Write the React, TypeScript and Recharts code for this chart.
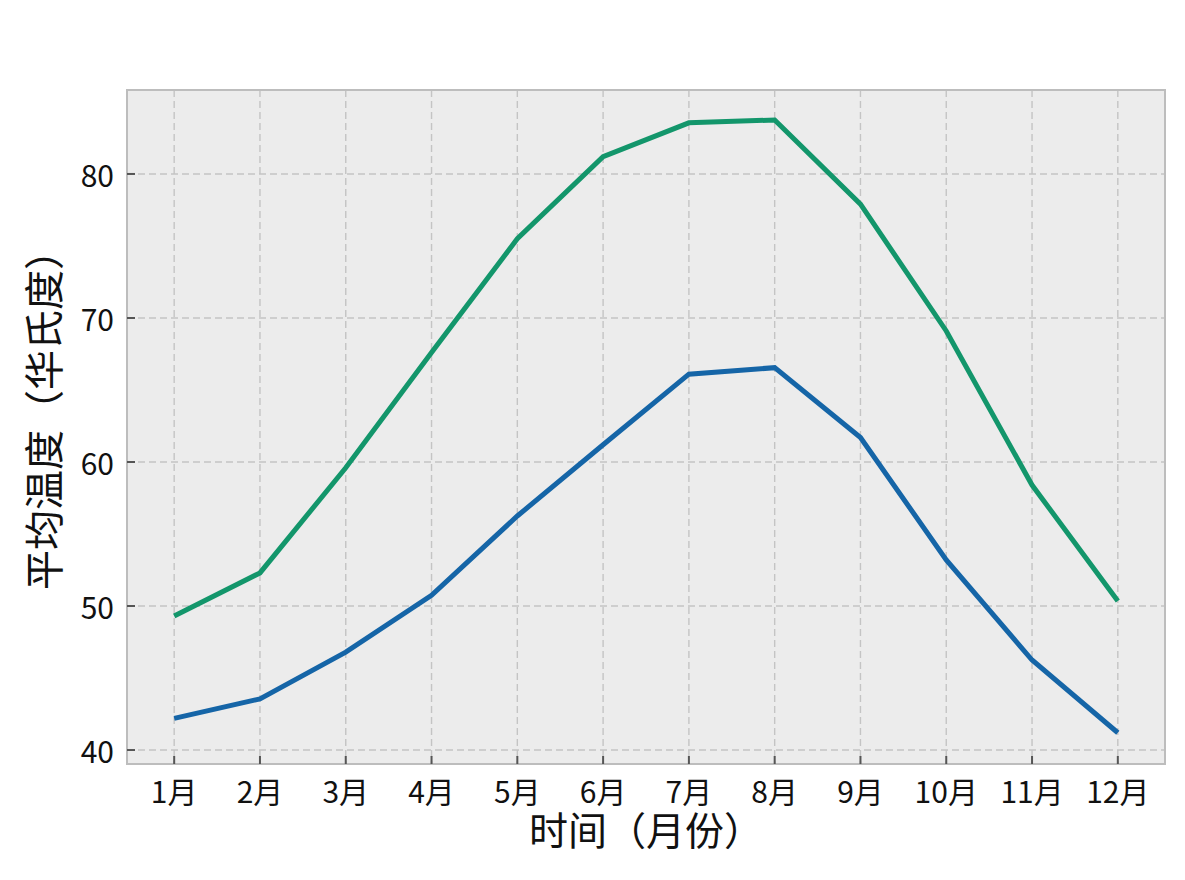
import React from 'react';
import { LineChart, Line, XAxis, YAxis, CartesianGrid, ReferenceArea, Label } from 'recharts';

const months = ['1月', '2月', '3月', '4月', '5月', '6月', '7月', '8月', '9月', '10月', '11月', '12月'];
const highTemps = [49.3, 52.3, 59.6, 67.6, 75.5, 81.2, 83.55, 83.75, 77.9, 69.1, 58.4, 50.35];
const lowTemps = [42.2, 43.55, 46.8, 50.75, 56.25, 61.2, 66.1, 66.55, 61.7, 53.2, 46.25, 41.2];
const yTicks = [40, 50, 60, 70, 80];
const xTicks = [1, 2, 3, 4, 5, 6, 7, 8, 9, 10, 11, 12];

const data = months.map((m, i) => ({ x: i + 1, label: m, high: highTemps[i], low: lowTemps[i] }));

const FONT = '"Noto Sans CJK SC", "Noto Sans", sans-serif';
const PLOT_LEFT = 127;
const PLOT_BOTTOM = 764;
const X_DOMAIN: [number, number] = [0.45, 12.55];
const Y_DOMAIN: [number, number] = [39.03, 85.83];
const Y_TITLE = '平均温度（华氏度）';

const YTick = (props: any) => {
  const { y, payload } = props;
  return (
    <g>
      <line x1={PLOT_LEFT} x2={PLOT_LEFT + 8} y1={y} y2={y} stroke="#555" strokeWidth={2} />
      <text x={PLOT_LEFT - 13} y={y} textAnchor="end" dominantBaseline="central" fontFamily={FONT} fontSize={30} fill="#111">
        {payload.value}
      </text>
    </g>
  );
};

const XTick = (props: any) => {
  const { x, payload } = props;
  return (
    <g>
      <line x1={x} x2={x} y1={PLOT_BOTTOM} y2={PLOT_BOTTOM - 8} stroke="#555" strokeWidth={2} />
      <text x={x} y={PLOT_BOTTOM + 26} textAnchor="middle" dominantBaseline="central" fontFamily={FONT} fontSize={30} fill="#111">
        {months[payload.value - 1]}
      </text>
    </g>
  );
};

const YTitle = () => (
  <text
    x={42}
    y={410}
    transform="rotate(-90 42 410)"
    textAnchor="middle"
    dominantBaseline="central"
    fontFamily={FONT}
    fontSize={40}
    fill="#111"
  >
    {Y_TITLE}
  </text>
);

export default function App() {
  return (
    <div style={{ position: 'absolute', left: 0, top: 0, background: '#fff' }}>
      <LineChart width={1185} height={880} data={data} margin={{ top: 90, right: 20, bottom: 0, left: 0 }}>
        <CartesianGrid stroke="#c4c4c4" strokeWidth={1.4} strokeDasharray="7 4" fill="#ececec" />
        <XAxis
          dataKey="x"
          type="number"
          domain={X_DOMAIN}
          ticks={xTicks}
          height={116}
          axisLine={false}
          tickLine={false}
          tick={<XTick />}
          interval={0}
        >
          <Label value="时间（月份）" position="insideTop" offset={53} fontFamily={FONT} fontSize={39} fill="#111" />
        </XAxis>
        <YAxis
          type="number"
          domain={Y_DOMAIN}
          ticks={yTicks}
          width={127}
          axisLine={false}
          tickLine={false}
          tick={<YTick />}
          allowDataOverflow
        >
          <Label content={<YTitle />} />
        </YAxis>
        <ReferenceArea x1={X_DOMAIN[0]} x2={X_DOMAIN[1]} y1={Y_DOMAIN[0]} y2={Y_DOMAIN[1]} fill="none" stroke="#bdbdbd" strokeWidth={2} ifOverflow="extendDomain" />
        <Line type="linear" dataKey="high" stroke="#13966b" strokeWidth={5} dot={false} isAnimationActive={false} />
        <Line type="linear" dataKey="low" stroke="#1565a7" strokeWidth={5} dot={false} isAnimationActive={false} />
      </LineChart>
    </div>
  );
}
